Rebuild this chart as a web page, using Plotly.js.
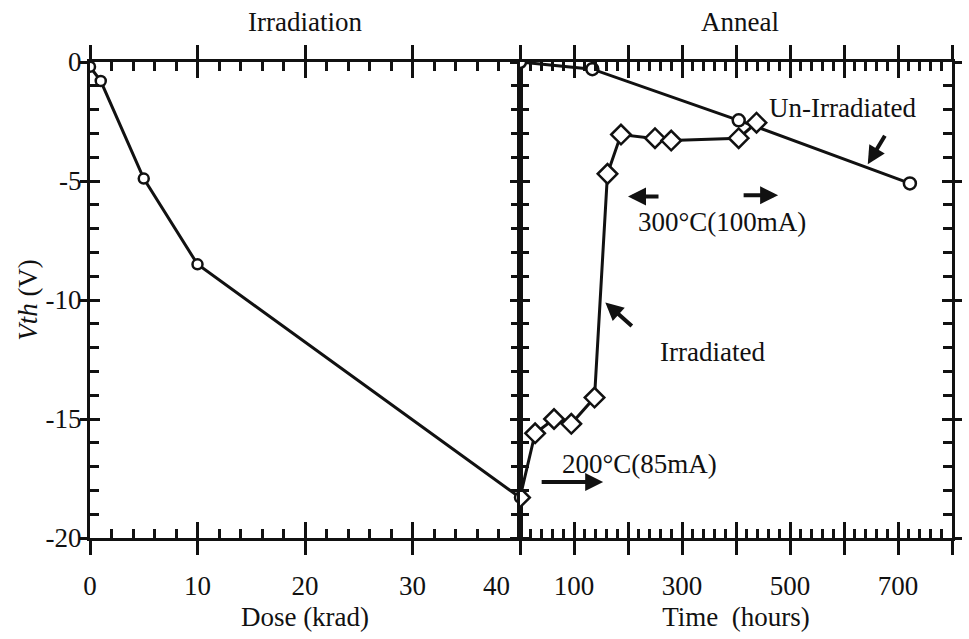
<!DOCTYPE html>
<html>
<head>
<meta charset="utf-8">
<script src="https://cdn.plot.ly/plotly-3.0.1.min.js"></script>
<style>html,body{margin:0;padding:0;background:#fff;}#chart{width:969px;height:639px;}</style>
</head>
<body>
<div id="chart"></div>
<script>
// Irradiation panel: Vth vs dose
const doseKrad = [0, 1, 5, 10, 40];
const vthDose = [-0.2, -0.8, -4.9, -8.5, -18.3];

// Anneal panel: irradiated device
const timeIrr = [0, 28, 63, 95, 138, 162, 187, 250, 280, 405, 438];
const vthIrr = [-18.3, -15.6, -15.0, -15.2, -14.1, -4.7, -3.05, -3.2, -3.3, -3.2, -2.55];

// Anneal panel: un-irradiated device
const timeUnirr = [0, 134, 405, 722];
const vthUnirr = [0, -0.3, -2.45, -5.1];

// Tick labels (shown / hidden)
const timeHiddenLabels = ['0', '200', '400', '600', '800'];
const vTickLabels = ['-20', '-15', '-10', '-5', '0'];

const FONT = '"Liberation Serif", "Times New Roman", serif';
const F = 27;
const split = 430 / 862;

const vAlias = {};
vTickLabels.forEach(s => { vAlias[s.replace('-', '\u2212')] = s; });
const tAlias = {};
timeHiddenLabels.forEach(s => { tAlias[s] = ' '; });
// the last dose label sits left of the panel divider, as in the original
const doseAlias = {'40': '40' + '\u00a0'.repeat(7)};

const lineStyle = {color: '#111', width: 3};
const traces = [
  {x: doseKrad, y: vthDose, xaxis: 'x', yaxis: 'y', mode: 'lines+markers', line: lineStyle,
   marker: {symbol: 'circle', size: 10, color: '#fff', line: {color: '#111', width: 2.5}}, hoverinfo: 'x+y'},
  {x: timeUnirr, y: vthUnirr, xaxis: 'x2', yaxis: 'y2', mode: 'lines+markers', line: lineStyle,
   marker: {symbol: 'circle', size: 12, color: '#fff', line: {color: '#111', width: 2.5}}, hoverinfo: 'x+y'},
  {x: timeIrr, y: vthIrr, xaxis: 'x2', yaxis: 'y2', mode: 'lines+markers', line: lineStyle,
   marker: {symbol: 'diamond', size: 15, color: '#fff', line: {color: '#111', width: 2.5}}, hoverinfo: 'x+y'},
  // carriers for the outward half of the crossing major ticks
  {x: [null], y: [null], xaxis: 'x3', yaxis: 'y3', mode: 'none', hoverinfo: 'skip'},
  {x: [null], y: [null], xaxis: 'x4', yaxis: 'y4', mode: 'none', hoverinfo: 'skip'}
];

const baseAxis = {
  showline: true, linecolor: '#111', linewidth: 3, mirror: 'allticks',
  ticks: 'inside', tickcolor: '#111', tickwidth: 3, showgrid: false, zeroline: false,
  tickfont: {family: FONT, size: F, color: '#111'}, fixedrange: true
};
const minorTicks = d => ({dtick: d, ticks: 'inside', ticklen: 9, tickcolor: '#111', tickwidth: 3, showgrid: false});
const outerAxis = (over, anchor, domain, range, dtick, len) => ({
  overlaying: over, anchor: anchor, domain: domain, range: range, showline: false, showgrid: false, zeroline: false,
  ticks: 'outside', ticklen: len, tickwidth: 3, tickcolor: '#111', mirror: 'ticks',
  tickmode: 'linear', tick0: 0, dtick: dtick, showticklabels: false, fixedrange: true
});

const arrowStyle = {showarrow: true, arrowhead: 2, arrowsize: 0.9, arrowwidth: 4, arrowcolor: '#111', xref: 'x2', yref: 'y2', text: ''};
const label = (text, x, y) => ({text: text, xref: 'x2', yref: 'y2', x: x, y: y, xanchor: 'center', yanchor: 'middle', showarrow: false, font: {family: FONT, size: F}});

const layout = {
  width: 969, height: 639,
  margin: {l: 90, r: 17, t: 62, b: 101},
  paper_bgcolor: '#fff', plot_bgcolor: '#fff',
  showlegend: false,
  font: {family: FONT, size: F, color: '#111'},
  xaxis: Object.assign({}, baseAxis, {
    domain: [0, split], range: [0, 40], anchor: 'y',
    tickmode: 'linear', tick0: 0, dtick: 10, ticklen: 16,
    labelalias: doseAlias,
    minor: minorTicks(2),
    ticklabelstandoff: 22,
    title: {text: 'Dose (krad)', font: {family: FONT, size: F}, standoff: 7}
  }),
  yaxis: Object.assign({}, baseAxis, {
    domain: [0, 1], range: [-20, 0], anchor: 'x',
    tickmode: 'linear', tick0: 0, dtick: 5, ticklen: 10,
    labelalias: vAlias,
    minor: minorTicks(1),
    ticklabelstandoff: 0,
    title: {text: '<i>Vth</i> (V)', font: {family: FONT, size: F}, standoff: 1}
  }),
  xaxis2: Object.assign({}, baseAxis, {
    domain: [split, 1], range: [0, 800], anchor: 'y2',
    tickmode: 'linear', tick0: 0, dtick: 100, ticklen: 16,
    labelalias: tAlias,
    minor: minorTicks(20),
    ticklabelstandoff: 22,
    title: {text: 'Time&nbsp;&nbsp;(hours)', font: {family: FONT, size: F}, standoff: 7}
  }),
  yaxis2: Object.assign({}, baseAxis, {
    domain: [0, 1], range: [-20, 0], anchor: 'x2', matches: 'y',
    tickmode: 'linear', tick0: 0, dtick: 5, ticklen: 10, showticklabels: false,
    minor: minorTicks(1)
  }),
  xaxis3: outerAxis('x', 'y3', [0, split], [0, 40], 10, 16),
  yaxis3: outerAxis('y', 'x3', [0, 1], [-20, 0], 5, 9),
  xaxis4: outerAxis('x2', 'y4', [split, 1], [0, 800], 100, 16),
  yaxis4: outerAxis('y2', 'x4', [0, 1], [-20, 0], 5, 9),
  annotations: [
    {text: 'Irradiation', xref: 'paper', yref: 'paper', x: 0.249, y: 1.084, xanchor: 'center', yanchor: 'middle', showarrow: false, font: {family: FONT, size: F}},
    {text: 'Anneal', xref: 'paper', yref: 'paper', x: 0.754, y: 1.084, xanchor: 'center', yanchor: 'middle', showarrow: false, font: {family: FONT, size: F}},
    label('Un-Irradiated', 598, -1.93),
    Object.assign({}, arrowStyle, {x: 644, y: -4.3, ax: 18, ay: -30}),
    label('300°C(100mA)', 374, -6.72),
    Object.assign({}, arrowStyle, {x: 200, y: -5.65, ax: 32, ay: 0}),
    Object.assign({}, arrowStyle, {x: 478, y: -5.6, ax: -36, ay: 0}),
    label('Irradiated', 356, -12.2),
    Object.assign({}, arrowStyle, {x: 158, y: -10.1, ax: 28, ay: 25}),
    label('200°C(85mA)', 222, -16.9),
    Object.assign({}, arrowStyle, {x: 154, y: -17.65, ax: -63, ay: 0})
  ]
};

Plotly.newPlot('chart', traces, layout, {displayModeBar: false, staticPlot: true});
</script>
</body>
</html>
